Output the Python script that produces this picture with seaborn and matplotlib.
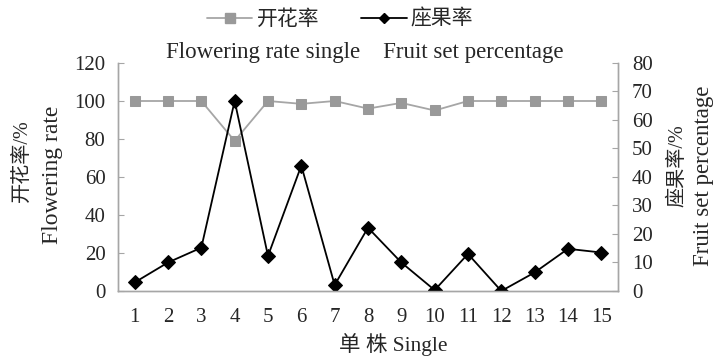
import numpy as np
import pandas as pd
import matplotlib
matplotlib.use("Agg")
import matplotlib.pyplot as plt
from matplotlib.lines import Line2D
import seaborn as sns

# ---- data ----
plants = list(range(1, 16))
flowering_rate = [100, 100, 100, 79, 100, 98.5, 100, 96, 99, 95, 100, 100, 100, 100, 100]
fruit_set = [3, 10, 15.2, 66.7, 12.3, 44, 2.1, 22.2, 10, 0.3, 13, 0, 6.5, 14.8, 13.5]

df = pd.DataFrame({"plant": plants, "flower": flowering_rate, "fruit": fruit_set})

sns.set_style("white")
plt.rcParams["font.family"] = ["Liberation Serif", "Noto Sans CJK SC"]
plt.rcParams["font.size"] = 15

GREY_LINE = "#a6a6a6"
GREY_MARK = "#999999"

fig = plt.figure(figsize=(7.16, 3.6), dpi=100)
ax = fig.add_axes([0.1648, 0.1917, 0.6983, 0.6333])
ax2 = ax.twinx()

sns.lineplot(data=df, x="plant", y="flower", ax=ax, color=GREY_LINE, lw=1.3,
             marker="s", markersize=7.5, markerfacecolor=GREY_MARK,
             markeredgecolor=GREY_MARK)
sns.lineplot(data=df, x="plant", y="fruit", ax=ax2, color="black", lw=1.3,
             marker="D", markersize=7, markerfacecolor="black",
             markeredgecolor="black")

ax.set_xlim(0.5, 15.5)
ax.set_ylim(0, 120)
ax2.set_ylim(0, 80)
ax.set_yticks(np.arange(0, 121, 20))
ax2.set_yticks(np.arange(0, 81, 10))
ax.set_xticks(plants)
ax.set_xticks(np.arange(0.5, 15.6, 1), minor=True)

ax.tick_params(axis="x", which="major", length=0, pad=12, labelsize=15)
ax.tick_params(axis="x", which="minor", direction="in", length=4, color=GREY_LINE)
ax.tick_params(axis="y", direction="in", length=4, color=GREY_LINE, pad=9, labelsize=15)
ax2.tick_params(axis="y", direction="in", length=4, color=GREY_LINE, pad=10, labelsize=15)

for a in (ax, ax2):
    a.spines["top"].set_visible(False)
    for s in ("left", "right", "bottom"):
        a.spines[s].set_color(GREY_LINE)
        a.spines[s].set_linewidth(1.0)

ax.set_xlabel("")
ax.set_ylabel("")
ax2.set_ylabel("")

fig.text(0.549, 0.042, "单 株 Single", ha="center", va="center", fontsize=15.5)

fig.text(0.031, 0.555, "开花率/%", rotation=90, ha="center", va="center", fontsize=14.5)
fig.text(0.073, 0.515, "Flowering rate", rotation=90, ha="center", va="center", fontsize=17)
fig.text(0.946, 0.54, "座果率/%", rotation=90, ha="center", va="center", fontsize=14.5)
fig.text(0.983, 0.513, "Fruit set percentage", rotation=90, ha="center", va="center", fontsize=16.5)

handles = [
    Line2D([], [], color=GREY_LINE, lw=1.3, marker="s", markersize=7,
           markerfacecolor=GREY_MARK, markeredgecolor=GREY_MARK),
    Line2D([], [], color="black", lw=1.3, marker="D", markersize=5,
           markerfacecolor="black", markeredgecolor="black"),
]
fig.legend(handles, ["开花率", "座果率"], loc="center", bbox_to_anchor=(0.475, 0.945),
           ncol=2, frameon=False, handlelength=2.2, columnspacing=2.0,
           handletextpad=0.2, fontsize=15)
fig.text(0.51, 0.853, "Flowering rate single    Fruit set percentage",
         ha="center", va="center", fontsize=16.5)

fig.savefig("out.png", dpi=100)
